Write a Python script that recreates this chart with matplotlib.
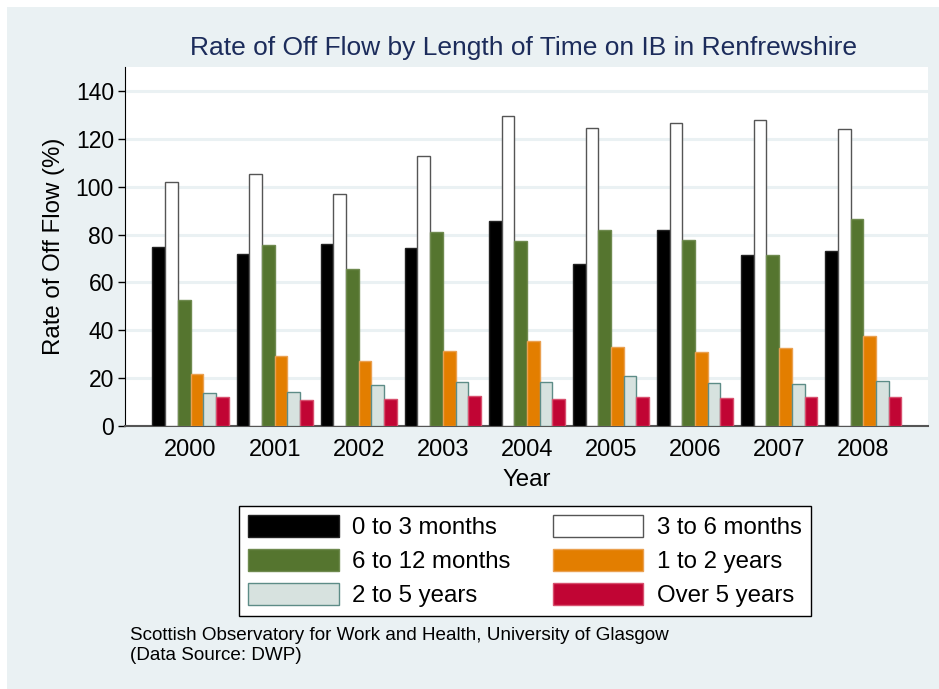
import matplotlib as mpl
import matplotlib.pyplot as plt
import numpy as np
from matplotlib.patches import Rectangle

config = {
    "font.family": ['Liberation Sans', 'DejaVu Sans'],
    "font.size": 16,
}
mpl.rcParams.update(config)

years = ["2000", "2001", "2002", "2003", "2004", "2005", "2006", "2007", "2008"]
m0_3 = [74.7, 71.7, 76.2, 74.4, 85.8, 67.5, 82.1, 71.5, 73.2]
m3_6 = [101.8, 105.4, 96.8, 112.8, 129.6, 124.4, 126.7, 127.8, 124.2]
m6_12 = [52.8, 75.7, 65.8, 81.0, 77.4, 81.9, 77.8, 71.4, 86.5]
y1_2 = [21.8, 29.2, 27.0, 31.4, 35.7, 33.2, 31.1, 32.5, 37.8]
y2_5 = [13.9, 14.4, 17.2, 18.2, 18.3, 21.1, 18.1, 17.6, 18.6]
over5 = [12.1, 10.8, 11.2, 12.5, 11.1, 12.1, 11.5, 12.1, 12.2]

labels = ["0 to 3 months", "3 to 6 months", "6 to 12 months",
          "1 to 2 years", "2 to 5 years", "Over 5 years"]
series = [m0_3, m3_6, m6_12, y1_2, y2_5, over5]
faces = ["#000000", "#ffffff", "#55752f", "#e37e00", "#d7e2df", "#c10534"]
edges = ["#222222", "#555555", "#6f8a4f", "#eaa050", "#5d8c87", "#d8506e"]

bg = "#eaf1f3"

fig = plt.figure(figsize=(9.39, 6.89), dpi=100)
fig.patches.append(Rectangle((7 / 939, 0), 1 - 7 / 939, 1 - 7 / 689,
                             transform=fig.transFigure, facecolor=bg,
                             edgecolor="none", zorder=-10))
ax = fig.add_axes([125 / 939, 1 - 426 / 689, (928 - 125) / 939, (426 - 67) / 689])

x = np.arange(len(years))
w = 0.151
handles = []
for i, (vals, fc, ec) in enumerate(zip(series, faces, edges)):
    b = ax.bar(x + (i - 2.5) * w, vals, w, color=fc, edgecolor=ec,
               linewidth=1.0, label=labels[i], zorder=3)
    handles.append(b)

ax.set_xlim(-0.78, 8.77)
ax.set_ylim(0, 150)
ax.set_yticks(np.arange(0, 141, 20))
ax.set_xticks(x)
ax.set_xticklabels(years)
ax.tick_params(axis="x", length=0, pad=9, labelsize=17)
ax.tick_params(axis="y", length=5, width=1, pad=3, labelsize=16.5)
ax.yaxis.grid(True, color=bg, linewidth=2.2, zorder=0)
ax.set_axisbelow(True)
for s in ["top", "right"]:
    ax.spines[s].set_visible(False)
ax.spines["left"].set_color("black")
ax.spines["bottom"].set_color("#555555")
ax.spines["bottom"].set_linewidth(1.5)

ax.set_ylabel("Rate of Off Flow (%)", labelpad=8, fontsize=17.3)
ax.set_xlabel("Year", labelpad=6, fontsize=17.3)
fig.text(523 / 939, 1 - 48 / 689, "Rate of Off Flow by Length of Time on IB in Renfrewshire",
         ha="center", va="center", color="#1c2c5b", fontsize=19)

order = [0, 2, 4, 1, 3, 5]
leg = fig.legend([handles[i] for i in order], [labels[i] for i in order],
                 ncol=2, loc="center", bbox_to_anchor=(525 / 939, 1 - 561 / 689),
                 frameon=True, fancybox=False, edgecolor="black", framealpha=1,
                 facecolor="white",
                 handlelength=3.77, handleheight=1.04, columnspacing=1.75,
                 handletextpad=0.56, labelspacing=0.39, borderpad=0.38, fontsize=17.3)
leg.get_frame().set_linewidth(1.0)

fig.text(130 / 939, 1 - 636 / 689, "Scottish Observatory for Work and Health, University of Glasgow",
         ha="left", va="center", fontsize=13.6)
fig.text(130 / 939, 1 - 655 / 689, "(Data Source: DWP)",
         ha="left", va="center", fontsize=13.6)

fig.savefig("out.png", dpi=100)
